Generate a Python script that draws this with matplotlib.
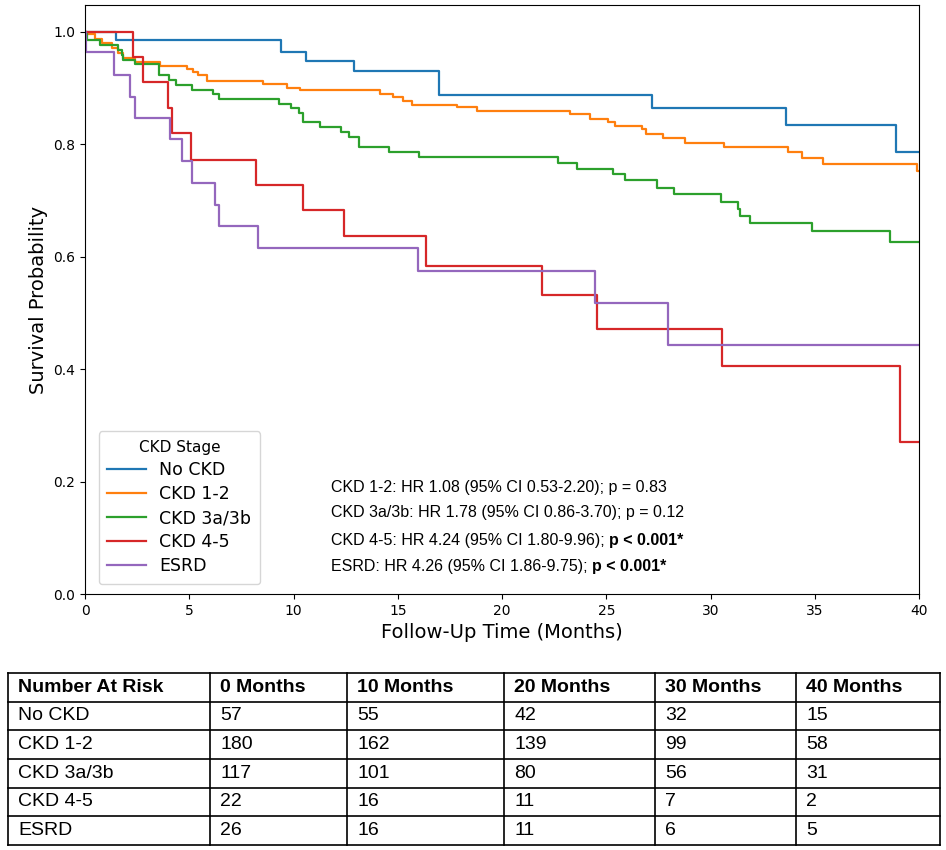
import matplotlib
matplotlib.use("Agg")
import matplotlib.pyplot as plt

# Step-curve data (time of drop, survival after drop)
no_ckd_t = [0, 1.5, 9.4, 10.6, 12.9, 17.0, 27.2, 33.6, 38.9, 40]
no_ckd_s = [1.0, 0.985, 0.965, 0.948, 0.930, 0.887, 0.864, 0.835, 0.786, 0.786]

ckd12_t = [0, 0.08, 0.48, 0.8, 1.28, 1.6, 1.84, 2.4, 3.6, 4.88, 5.2, 5.43, 5.84, 8.52, 9.67, 10.31,
           14.15, 14.79, 15.24, 15.7, 17.86, 18.79, 23.26, 24.2, 25.1, 25.4, 26.7, 26.9, 27.7, 28.8,
           30.65, 33.7, 34.4, 35.4, 39.9, 40]
ckd12_s = [1.0, 0.996, 0.987, 0.981, 0.972, 0.963, 0.953, 0.947, 0.940, 0.934, 0.928, 0.924, 0.913,
           0.907, 0.901, 0.896, 0.890, 0.884, 0.878, 0.870, 0.867, 0.860, 0.854, 0.846, 0.839, 0.833,
           0.827, 0.818, 0.812, 0.803, 0.795, 0.786, 0.775, 0.765, 0.753, 0.753]

ckd3_t = [0, 0.11, 0.72, 1.6, 1.76, 1.84, 2.4, 3.55, 4.05, 4.35, 5.15, 6.12, 6.44, 9.29, 9.86, 10.26,
          10.44, 11.27, 12.28, 12.68, 13.16, 14.6, 16.0, 22.7, 23.6, 25.3, 25.9, 27.45, 28.25, 30.5,
          31.3, 31.4, 31.9, 34.85, 38.6, 40]
ckd3_s = [1.0, 0.985, 0.976, 0.968, 0.959, 0.950, 0.943, 0.923, 0.915, 0.906, 0.897, 0.890, 0.881,
          0.872, 0.864, 0.855, 0.839, 0.831, 0.822, 0.814, 0.795, 0.786, 0.778, 0.767, 0.757, 0.747,
          0.736, 0.723, 0.711, 0.698, 0.685, 0.673, 0.660, 0.646, 0.626, 0.626]

ckd45_t = [0, 2.32, 2.8, 4.0, 4.19, 5.08, 8.2, 10.47, 12.42, 16.34, 21.9, 24.55, 30.55, 39.1, 40]
ckd45_s = [1.0, 0.956, 0.911, 0.864, 0.820, 0.773, 0.727, 0.683, 0.637, 0.584, 0.532, 0.472, 0.405, 0.270, 0.270]

esrd_t = [0, 0.05, 1.4, 2.16, 2.4, 4.08, 4.64, 5.12, 6.23, 6.44, 8.31, 15.99, 24.46, 27.96, 40]
esrd_s = [1.0, 0.964, 0.923, 0.885, 0.847, 0.809, 0.770, 0.732, 0.693, 0.655, 0.616, 0.575, 0.518, 0.443, 0.443]

groups = ["No CKD", "CKD 1-2", "CKD 3a/3b", "CKD 4-5", "ESRD"]
colors = ["#1f77b4", "#ff7f0e", "#2ca02c", "#d62728", "#9467bd"]
series = [(no_ckd_t, no_ckd_s), (ckd12_t, ckd12_s), (ckd3_t, ckd3_s), (ckd45_t, ckd45_s), (esrd_t, esrd_s)]

hr_labels = ["CKD 1-2: HR 1.08 (95% CI 0.53-2.20); p = 0.83",
             "CKD 3a/3b: HR 1.78 (95% CI 0.86-3.70); p = 0.12",
             "CKD 4-5: HR 4.24 (95% CI 1.80-9.96); ",
             "ESRD: HR 4.26 (95% CI 1.86-9.75); "]
hr_bold = ["", "", "p < 0.001*", "p < 0.001*"]

table_header = ["Number At Risk", "0 Months", "10 Months", "20 Months", "30 Months", "40 Months"]
at_risk = [[57, 55, 42, 32, 15],
           [180, 162, 139, 99, 58],
           [117, 101, 80, 56, 31],
           [22, 16, 11, 7, 2],
           [26, 16, 11, 6, 5]]

fig = plt.figure(figsize=(9.46, 8.5), dpi=100)
ax = fig.add_axes([85/946, 1-594/850, (919-85)/946, (594-5)/850])
for g, c, (t, s) in zip(groups, colors, series):
    ax.step(t, s, where="post", color=c, lw=1.6, label=g)
ax.set_xlim(0, 40)
ax.set_ylim(0, 1.048)
ax.set_xlabel("Follow-Up Time (Months)", fontsize=14)
ax.set_ylabel("Survival Probability", fontsize=14)
ax.tick_params(labelsize=10)
leg = ax.legend(title="CKD Stage", loc="lower left", bbox_to_anchor=(0.006, 0.002),
                fontsize=12.5, title_fontsize=11, handlelength=2.2, borderpad=0.5,
                labelspacing=0.35)

ys = [487, 513, 540, 566]
for lab, b, y in zip(hr_labels, hr_bold, ys):
    t = ax.text(331/946, 1-y/850, lab, transform=fig.transFigure, fontsize=11.5,
                family="Liberation Sans", va="center")
    if b:
        ax.annotate(b, xy=(1, 0.5), xycoords=t, va="center", ha="left",
                    fontsize=11.5, family="Liberation Sans", fontweight="bold")

# table
edges = [8, 210, 347, 504, 655, 796, 940]
top, bot = 673, 845
tax = fig.add_axes([0, 0, 1, 1])
tax.set_xlim(0, 946)
tax.set_ylim(850, 0)
tax.axis("off")
rows = [table_header] + [[g] + [str(v) for v in r] for g, r in zip(groups, at_risk)]
nrow = len(rows)
rh = (bot - top) / nrow
for i in range(nrow + 1):
    tax.plot([edges[0], edges[-1]], [top + i*rh]*2, color="black", lw=1.2)
for x in edges:
    tax.plot([x, x], [top, bot], color="black", lw=1.2)
for i, row in enumerate(rows):
    for j, cell in enumerate(row):
        tax.text(edges[j] + 10, top + (i+0.5)*rh, cell, fontsize=14, family="Liberation Sans",
                 va="center", ha="left", fontweight="bold" if i == 0 else "normal")

fig.savefig("out.png", dpi=100)
